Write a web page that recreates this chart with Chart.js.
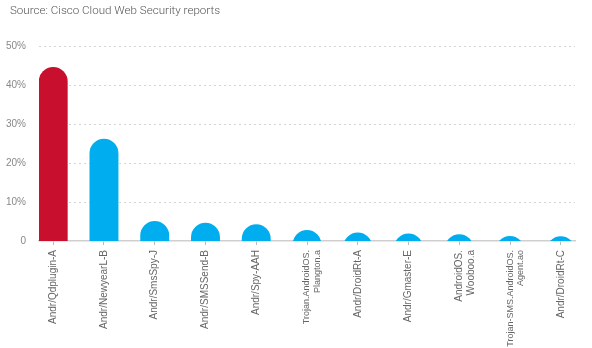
<!DOCTYPE html>
<html>
<head>
<meta charset="utf-8">
<script src="https://cdn.jsdelivr.net/npm/chart.js@4"></script>
<style>
  html, body { margin: 0; padding: 0; background: #fff; }
  #wrap { position: relative; width: 592px; height: 348px; }
  #fonte {
    position: absolute; left: 10px; top: 3px;
    font: 300 11.6px Roboto, sans-serif; color: #555;
  }
</style>
</head>
<body>
<div id="wrap">
  <div id="fonte">Source: Cisco Cloud Web Security reports</div>
  <canvas id="malware"></canvas>
</div>
<script>
/* ============================================================
   DATA
============================================================ */
const familias = [
  "Andr/Qdplugin-A",
  "Andr/NewyearL-B",
  "Andr/SmsSpy-J",
  "Andr/SMSSend-B",
  "Andr/Spy-AAH",
  ["Trojan.AndroidOS.", "Plangton.a"],
  "Andr/DroidRt-A",
  "Andr/Gmaster-E",
  ["AndroidOS.", "Wooboo.a"],
  ["Trojan-SMS.AndroidOS.", "Agent.ao"],
  "Andr/DroidRt-C",
];
const percentuais = [44.6, 26.2, 5.1, 4.7, 4.3, 2.8, 2.2, 1.9, 1.7, 1.3, 1.2];
const yTicks = [0, 10, 20, 30, 40, 50];

const VERMELHO = "#c8102e";
const AZUL = "#00aeef";
const NARROW = "'Liberation Sans Narrow', 'Arial Narrow', sans-serif";

/* ============================================================
   CHART
============================================================ */
const pontos = percentuais.map((v, i) => ({ x: i, y: v }));

new Chart(document.getElementById("malware"), {
  type: "bar",
  data: {
    datasets: [
      {
        data: pontos,
        backgroundColor: percentuais.map((_, i) => (i === 0 ? VERMELHO : AZUL)),
        borderRadius: 15,
        borderSkipped: "bottom",
        base: -8, // barra começa abaixo do eixo para manter o topo redondo
        clip: 0,
        barPercentage: 0.57,
        categoryPercentage: 1,
      },
    ],
  },
  options: {
    responsive: true,
    maintainAspectRatio: false,
    animation: false,
    layout: { padding: { left: 0, right: 17, top: 46, bottom: 0 } },
    plugins: {
      legend: { display: false },
      tooltip: { enabled: false },
      title: { display: false },
    },
    scales: {
      x: {
        type: "linear",
        offset: false,
        min: -0.28,
        max: 10.28,
        afterBuildTicks: (s) => {
          s.ticks = familias.map((_, i) => ({ value: i }));
        },
        afterFit: (s) => {
          s.height = 107;
        },
        grid: {
          offset: false,
          drawOnChartArea: false,
          drawTicks: true,
          tickLength: 4,
          color: "#bbb",
        },
        border: { display: true, color: "#cfcfcf", width: 1.5 },
        ticks: {
          autoSkip: false,
          minRotation: 90,
          maxRotation: 90,
          padding: 5,
          color: "#666",
          // rótulos "Trojan..." são longos: um pouco menores
          font: (c) => ({
            family: NARROW,
            size: c.index === 5 || c.index === 9 ? 9 : 10,
          }),
          callback: (v, idx) => familias[idx],
        },
      },
      y: {
        min: 0,
        max: 50,
        afterBuildTicks: (s) => {
          s.ticks = yTicks.map((v) => ({ value: v }));
        },
        afterFit: (s) => {
          s.width = 39;
        },
        grid: {
          drawTicks: false,
          color: (c) => (c.tick.value === 0 ? "rgba(0,0,0,0)" : "#d4d4d4"),
          lineWidth: 1,
        },
        border: { display: false, dash: [2, 3] },
        ticks: {
          padding: 13,
          color: "#888",
          font: { family: NARROW, size: 10 },
          callback: (v) => (v === 0 ? "0" : v + "%"),
        },
      },
    },
  },
});
</script>
</body>
</html>
